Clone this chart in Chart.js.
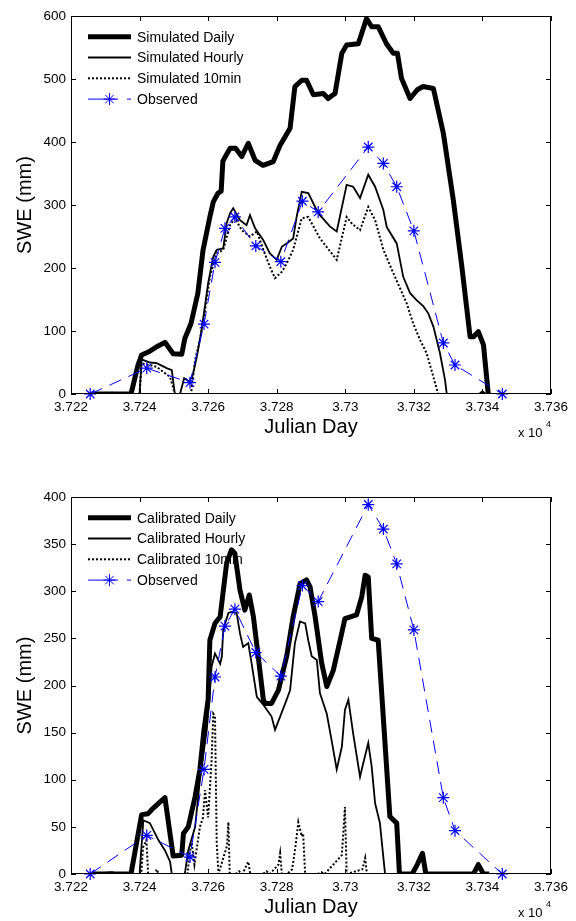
<!DOCTYPE html>
<html>
<head>
<meta charset="utf-8">
<script src="https://cdn.jsdelivr.net/npm/chart.js@4.4.1/dist/chart.umd.min.js"></script>
<style>
  html, body { margin: 0; padding: 0; background: #fff; overflow: hidden; width: 576px; height: 921px; }
  .panel { position: absolute; left: 0; width: 576px; height: 460px; }
  #topPanel { top: 0; }
  #bottomPanel { top: 480px; }
</style>
</head>
<body>
<div class="panel" id="topPanel"><canvas id="sweTop" width="576" height="460"></canvas></div>
<div class="panel" id="bottomPanel"><canvas id="sweBottom" width="576" height="460"></canvas></div>
<script>
// axis ticks
const xTickDays = [37220, 37240, 37260, 37280, 37300, 37320, 37340, 37360];
const xTickLabels = ['3.722', '3.724', '3.726', '3.728', '3.73', '3.732', '3.734', '3.736'];
const topSweTicks = [0, 100, 200, 300, 400, 500, 600];
const bottomSweTicks = [0, 50, 100, 150, 200, 250, 300, 350, 400];

// observed SWE (same in both panels)
const obsDay = [37225.6, 37242.1, 37254.7, 37258.8, 37262, 37264.9, 37267.8, 37273.9, 37281.2,
  37287.5, 37292.1, 37306.7, 37311.1, 37315, 37320, 37328.6, 37332, 37345.8];
const obsSwe = [0, 41, 18, 111, 209, 263, 281, 235, 210, 306, 289, 392, 366, 329, 259, 81, 46, 0];

// top panel: simulated
const simDailyDay = [37226, 37237.5, 37239.5, 37240.6, 37243, 37245, 37247.4, 37249.8, 37252.3, 37253.2,
  37255, 37257, 37258.5, 37260.5, 37261.5, 37262.9, 37263.8, 37264.3, 37266.4, 37268, 37269.8, 37271.7,
  37273.7, 37276, 37279, 37281, 37283.9, 37285.3, 37287.3, 37288.7, 37290.7, 37293.6, 37295, 37297,
  37299, 37300.4, 37303.8, 37306.2, 37307.7, 37309.6, 37312, 37314, 37315.2, 37316.4, 37318.9, 37321,
  37322.7, 37325.7, 37328.6, 37331.5, 37334, 37336.4, 37337.4, 37338.8, 37340.3, 37341.7, 37342];
const simDailySwe = [0, 0, 45, 62, 68, 75, 82, 64, 63, 88,
  112, 160, 228, 281, 305, 319, 322, 370, 390, 390, 377, 398,
  371, 363, 369, 395, 422, 488, 498, 498, 475, 477, 469, 477,
  541, 554, 556, 596, 583, 583, 556, 541, 541, 501, 469, 483,
  488, 485, 414, 308, 202, 91, 91, 99, 78, 0, 0];

const simHourlyDay = [37226, 37230, 37232, 37234, 37240, 37240.6, 37243, 37245, 37247.9, 37249.4,
  37250.3, 37251.8, 37253, 37254.5, 37255.5, 37256.7, 37258.1, 37260, 37261.5, 37262.5, 37264.4,
  37265.4, 37266.4, 37267.3, 37269.3, 37271.2, 37272.2, 37273.7, 37276.1, 37278, 37280, 37281.5,
  37282.9, 37284.8, 37285.8, 37287.3, 37289.2, 37292.1, 37295.5, 37297.5, 37300.4, 37302.3, 37304.3,
  37306.7, 37308.7, 37311.1, 37312.1, 37315, 37316.9, 37318.9, 37320.8, 37322.8, 37324.2, 37325.7,
  37327.6, 37329.1, 37329.6, 37339, 37340, 37341, 37342];
const simHourlySwe = [0, 0, 2, 0, 0, 55, 50, 49, 41, 38,
  0, 0, 25, 20, 30, 59, 102, 176, 218, 229, 231,
  271, 287, 295, 276, 268, 284, 263, 244, 223, 213, 234,
  239, 247, 281, 321, 319, 287, 266, 258, 332, 329, 311,
  348, 329, 292, 265, 239, 186, 160, 149, 139, 128, 107,
  65, 22, 0, 0, 4, 0, 0];

const simTenMinDay = [37226, 37240, 37240.6, 37245, 37248.9, 37250.3, 37255, 37256.2, 37257.6, 37259.1,
  37260.5, 37262.5, 37264.4, 37266.4, 37267.8, 37269.8, 37272.2, 37274.2, 37276.1, 37278, 37279.5,
  37281.5, 37282.9, 37284.8, 37287.3, 37289.2, 37292.6, 37297.5, 37300.4, 37302, 37304.3, 37306.7,
  37308.7, 37311.1, 37314, 37317.9, 37319.8, 37321.8, 37323.7, 37325.7, 37327.1, 37342];
const simTenMinSwe = [0, 0, 49, 43, 27, 0, 0, 54, 86, 133,
  186, 223, 229, 268, 279, 260, 250, 258, 229, 202, 184,
  194, 207, 229, 279, 281, 247, 213, 281, 270, 260, 297,
  276, 229, 192, 144, 112, 86, 65, 27, 0, 0];

// bottom panel: calibrated
const calDailyDay = [37226, 37237.5, 37240.6, 37242.5, 37244, 37247.4, 37249.8, 37252.3, 37252.8, 37254.2,
  37256.2, 37257.6, 37258.8, 37260, 37260.5, 37262, 37263.5, 37265.4, 37266.8, 37267.8, 37269.3,
  37270.7, 37272, 37273.2, 37274.6, 37276.1, 37276.6, 37278.5, 37280.5, 37282.9, 37284.8, 37286.8,
  37288.7, 37289.7, 37291.2, 37293.1, 37294.6, 37296.5, 37298.5, 37299.9, 37303.3, 37304.8, 37305.8,
  37306.7, 37307.7, 37309.6, 37313, 37315, 37315.8, 37319.5, 37321, 37322.5, 37323.5, 37337.4,
  37338.8, 37340.3, 37342];
const calDailySwe = [0, 0, 63, 64, 70, 81, 19, 20, 43, 50,
  82, 111, 153, 185, 248, 266, 273, 330, 344, 340, 301,
  280, 296, 273, 231, 185, 181, 181, 195, 231, 273, 308,
  312, 305, 273, 224, 199, 216, 248, 271, 275, 294, 317,
  315, 250, 248, 61, 54, 0, 0, 10, 22, 0, 0,
  10, 0, 0];

const calHourlyDay = [37226, 37232, 37234, 37240, 37241.1, 37243, 37245.5, 37247.4, 37248.9, 37249.4,
  37253.2, 37254.2, 37256.2, 37257.6, 37259.6, 37260.5, 37261, 37262, 37263.5, 37264, 37264.4,
  37265.9, 37266.8, 37268.3, 37269.3, 37270.2, 37271.7, 37272.7, 37274.2, 37276, 37278.5, 37279.5,
  37281, 37282.9, 37283.9, 37285.3, 37286.8, 37288.3, 37289.2, 37290.2, 37291.7, 37292.6, 37294.6,
  37296, 37297.5, 37299, 37299.9, 37300.9, 37302.3, 37304.3, 37305.2, 37306.7, 37307.7, 37308.7,
  37310.1, 37311.1, 37311.6, 37342];
const calHourlySwe = [0, 2, 0, 0, 57, 54, 36, 25, 13, 0,
  0, 25, 50, 100, 153, 192, 220, 234, 223, 231, 259,
  277, 278, 277, 255, 241, 245, 223, 188, 180, 167, 153,
  167, 185, 195, 245, 268, 266, 248, 231, 227, 192, 170,
  142, 111, 135, 174, 185, 149, 103, 117, 139, 114, 75,
  54, 18, 0, 0];

const calTenMinDay = [37226, 37240.5, 37241, 37242, 37242.5, 37244.5, 37245, 37245.5, 37254, 37254.5,
  37255.2, 37256, 37256.8, 37257.6, 37258.5, 37259.1, 37260, 37261, 37261.5, 37262, 37262.5, 37263,
  37265.5, 37265.9, 37266.3, 37268, 37269, 37270, 37271.7, 37272.3, 37276, 37277, 37278, 37280.5,
  37281, 37281.5, 37283, 37284.5, 37285.5, 37286.3, 37287.3, 37287.7, 37288.3, 37292, 37293, 37294,
  37299, 37299.9, 37300.4, 37305, 37305.8, 37306.3, 37342];
const calTenMinSwe = [0, 0, 28, 36, 0, 0, 5, 0, 0, 20,
  33, 10, 30, 50, 60, 89, 60, 120, 170, 167, 33, 0,
  30, 55, 0, 0, 3, 0, 13, 0, 0, 3, 0, 10,
  22, 0, 0, 5, 30, 55, 40, 43, 0, 0, 2, 0,
  20, 71, 0, 5, 17, 0, 0];

const FONT = '"Liberation Sans", Arial, Helvetica, sans-serif';
Chart.defaults.font.family = FONT;
Chart.defaults.color = '#000';

function pts(days, swe) {
  return days.map((d, i) => ({ x: d, y: swe[i] }));
}

function drawStar(ctx, x, y, r) {
  const d = r * Math.SQRT1_2;
  ctx.beginPath();
  ctx.moveTo(x - r, y); ctx.lineTo(x + r, y);
  ctx.moveTo(x, y - r); ctx.lineTo(x, y + r);
  ctx.moveTo(x - d, y - d); ctx.lineTo(x + d, y + d);
  ctx.moveTo(x - d, y + d); ctx.lineTo(x + d, y - d);
  ctx.stroke();
}

// box, inward ticks, legend and the x10^4 exponent, MATLAB style
const matlabFrame = {
  id: 'matlabFrame',
  beforeDatasetsDraw(chart) {
    const { ctx, chartArea: a } = chart;
    ctx.save();
    chart.data.datasets.forEach((ds, i) => {
      const y = a.top + 20.7 + i * 20.8;
      const x0 = a.left + 17, x1 = a.left + 60;
      ctx.strokeStyle = ds.borderColor;
      ctx.lineWidth = ds.borderWidth;
      ctx.lineCap = 'butt';
      if (ds.pointStyle === 'star') {
        ctx.setLineDash([30, 9, 4, 100]);
      } else {
        ctx.setLineDash(ds.borderDash || []);
      }
      ctx.beginPath();
      ctx.moveTo(x0, y);
      ctx.lineTo(x1, y);
      ctx.stroke();
      if (ds.pointStyle === 'star') {
        ctx.setLineDash([]);
        drawStar(ctx, a.left + 38.5, y, 6);
      }
      ctx.setLineDash([]);
      ctx.fillStyle = '#000';
      ctx.font = '14px ' + FONT;
      ctx.textBaseline = 'middle';
      ctx.textAlign = 'left';
      ctx.fillText(ds.label, a.left + 66, y + 1);
    });
    ctx.restore();
  },
  afterDraw(chart) {
    const { ctx, chartArea: a, scales: { x, y } } = chart;
    ctx.save();
    ctx.strokeStyle = '#000';
    ctx.lineWidth = 1;
    ctx.setLineDash([]);
    ctx.strokeRect(a.left + 0.5, a.top + 0.5, a.right - a.left - 1, a.bottom - a.top - 1);
    ctx.beginPath();
    x.ticks.forEach(t => {
      const px = Math.round(x.getPixelForValue(t.value)) + 0.5;
      ctx.moveTo(px, a.bottom); ctx.lineTo(px, a.bottom - 5);
      ctx.moveTo(px, a.top); ctx.lineTo(px, a.top + 5);
    });
    y.ticks.forEach(t => {
      const py = Math.round(y.getPixelForValue(t.value)) + 0.5;
      ctx.moveTo(a.left, py); ctx.lineTo(a.left + 5, py);
      ctx.moveTo(a.right, py); ctx.lineTo(a.right - 5, py);
    });
    ctx.stroke();
    ctx.fillStyle = '#000';
    ctx.textBaseline = 'middle';
    ctx.textAlign = 'left';
    ctx.font = '13px ' + FONT;
    ctx.fillText('x 10', a.left + 447, a.bottom + 39);
    ctx.font = '9px ' + FONT;
    ctx.fillText('4', a.left + 475, a.bottom + 31);
    ctx.restore();
  }
};

function makeChart(canvasId, plotTop, names, series, yTicks) {
  const yMax = yTicks[yTicks.length - 1];
  return new Chart(document.getElementById(canvasId), {
    type: 'line',
    data: {
      datasets: [
        {
          label: names[0], data: pts(series[0], series[1]),
          borderColor: '#000', borderWidth: 5, borderJoinStyle: 'round',
          pointRadius: 0, order: 3
        },
        {
          label: names[1], data: pts(series[2], series[3]),
          borderColor: '#000', borderWidth: 1.8,
          pointRadius: 0, order: 2
        },
        {
          label: names[2], data: pts(series[4], series[5]),
          borderColor: '#000', borderWidth: 2, borderDash: [2, 2],
          pointRadius: 0, order: 1
        },
        {
          label: 'Observed', data: pts(obsDay, obsSwe),
          borderColor: '#0000ff', borderWidth: 1, borderDash: [13, 8],
          pointStyle: 'star', pointRadius: 6, pointBorderWidth: 1.2,
          pointBorderColor: '#0000ff', pointBackgroundColor: '#0000ff',
          order: 0, clip: 10
        }
      ]
    },
    options: {
      responsive: false,
      animation: false,
      layout: { padding: { top: plotTop, right: 25, bottom: 0, left: 0 } },
      plugins: { legend: { display: false }, tooltip: { enabled: false } },
      scales: {
        x: {
          type: 'linear',
          min: xTickDays[0],
          max: xTickDays[xTickDays.length - 1],
          afterFit: s => { s.height = 66; },
          afterBuildTicks: s => { s.ticks = xTickDays.map(v => ({ value: v })); },
          grid: { display: false, drawTicks: false },
          border: { display: false },
          ticks: {
            padding: 5,
            maxRotation: 0,
            autoSkip: false,
            font: { size: 13.5 },
            callback: v => xTickLabels[xTickDays.indexOf(v)]
          },
          title: { display: true, text: 'Julian Day', font: { size: 20 }, padding: { top: 0, bottom: 21 } }
        },
        y: {
          min: 0,
          max: yMax,
          afterFit: s => { s.width = 71; },
          afterBuildTicks: s => { s.ticks = yTicks.map(v => ({ value: v })); },
          grid: { display: false, drawTicks: false },
          border: { display: false },
          ticks: { padding: 5, font: { size: 13.5 } },
          title: { display: true, text: 'SWE (mm)', font: { size: 20 }, padding: { top: 13, bottom: 0 } }
        }
      }
    },
    plugins: [matlabFrame]
  });
}

makeChart('sweTop', 16,
  ['Simulated Daily', 'Simulated Hourly', 'Simulated 10min'],
  [simDailyDay, simDailySwe, simHourlyDay, simHourlySwe, simTenMinDay, simTenMinSwe],
  topSweTicks);

makeChart('sweBottom', 17,
  ['Calibrated Daily', 'Calibrated Hourly', 'Calibrated 10min'],
  [calDailyDay, calDailySwe, calHourlyDay, calHourlySwe, calTenMinDay, calTenMinSwe],
  bottomSweTicks);
</script>
</body>
</html>
